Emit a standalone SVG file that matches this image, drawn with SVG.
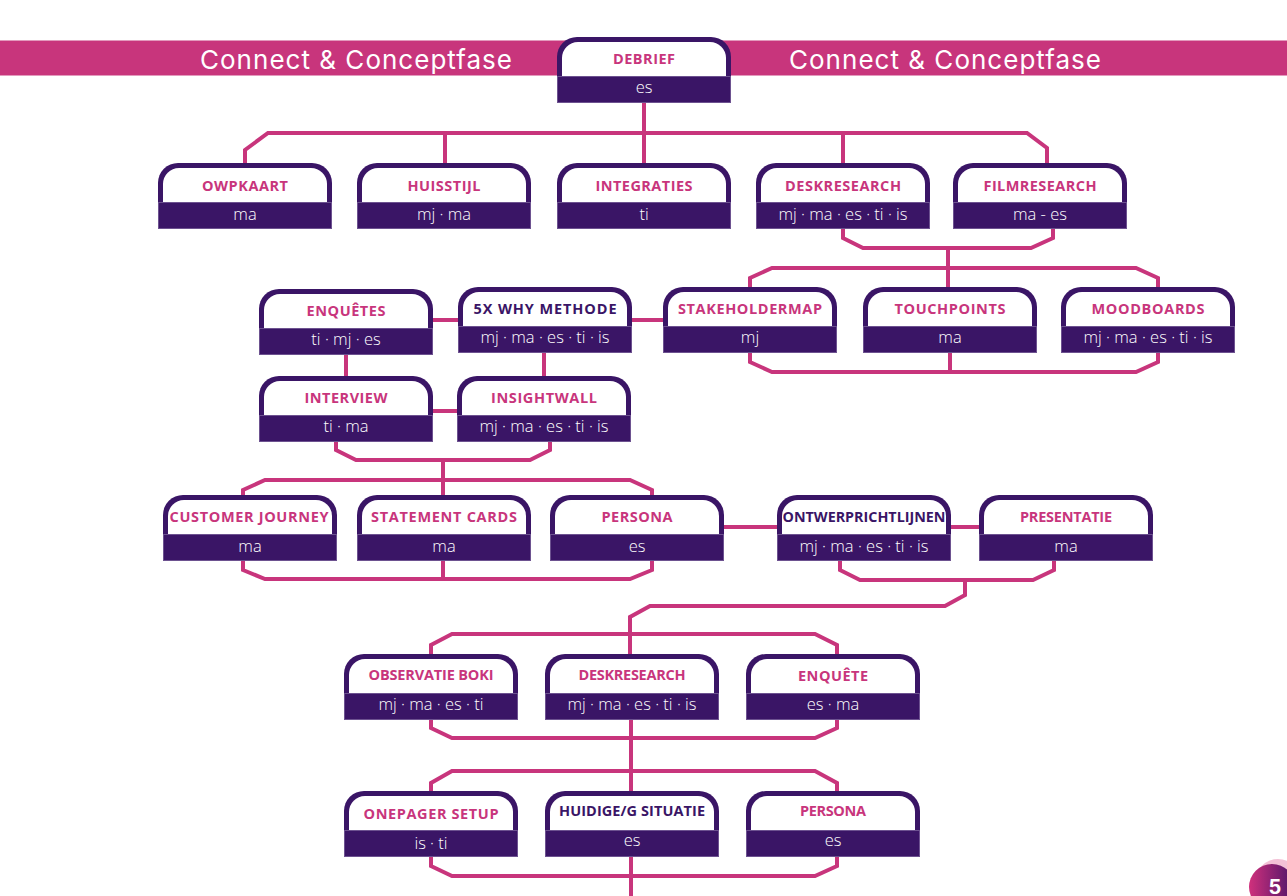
<svg xmlns="http://www.w3.org/2000/svg" xmlns:xlink="http://www.w3.org/1999/xlink" width="1287" height="896" viewBox="0 0 1287 896">
<style>
.bus{fill:none;stroke:#c8357c;stroke-width:4;stroke-linejoin:miter}
.lbl{font-family:"Open Sans","Liberation Sans",sans-serif;font-weight:700;font-size:14.5px;fill:#c8357c;text-anchor:middle}
.dk{fill:#3a1566}
.sub{font-family:"Open Sans","Liberation Sans",sans-serif;font-weight:300;font-size:16.5px;fill:#ffffff;text-anchor:middle}
.hdr{font-family:"Inter","Liberation Sans",sans-serif;font-weight:400;font-size:26px;fill:#ffffff;text-anchor:middle}
</style>
<defs>
<g id="shape">
<path d="M0,66 V20 A20,20 0 0 1 20,0 H154 A20,20 0 0 1 174,20 V66 Z" fill="#3a1566"/>
<path d="M5,39 V21 A16,16 0 0 1 21,5 H153 A16,16 0 0 1 169,21 V39 Z" fill="#ffffff"/>
<rect x="0.5" y="39.5" width="173" height="26" fill="none" stroke="#6d5290" stroke-width="1"/>
</g>
<linearGradient id="pg" x1="0" y1="0" x2="1" y2="0">
<stop offset="0" stop-color="#d0307c"/>
<stop offset="1" stop-color="#4a1468"/>
</linearGradient>
</defs>
<rect width="1287" height="896" fill="#ffffff"/>
<g id="header">
<rect x="0" y="40" width="1287" height="36" fill="#c8357c"/>
<line x1="0" y1="40.5" x2="1287" y2="40.5" stroke="#e39abd" stroke-width="1"/>
<line x1="0" y1="75.5" x2="1287" y2="75.5" stroke="#e39abd" stroke-width="1"/>
<text class="hdr" x="356" y="69" textLength="312">Connect &amp; Conceptfase</text>
<text class="hdr" x="945" y="69" textLength="312">Connect &amp; Conceptfase</text>
</g>
<g id="connectors">
<path class="bus" d="M644,103 V133"/>
<path class="bus" d="M245,163 V150 L268,133 H1027 L1047,148 V163"/>
<path class="bus" d="M445,133 V163 M644,133 V163 M843,133 V163"/>
<path class="bus" d="M843,229 V238 L863,248 H1031 L1053,238 V229"/>
<path class="bus" d="M948,248 V288"/>
<path class="bus" d="M750,288 V278 L772,268 H1136 L1158,278 V288"/>
<path class="bus" d="M750,352 V362 L772,372 H1136 L1158,362 V352 M950,352 V372"/>
<path class="bus" d="M432,320 H458 M631,320 H663"/>
<path class="bus" d="M346,354 V376 M544,352 V376"/>
<path class="bus" d="M432,411 H457"/>
<path class="bus" d="M336,441 V450 L356,460 H530 L550,450 V441 M443,460 V495"/>
<path class="bus" d="M243,495 V490 L265,480 H630 L652,490 V495"/>
<path class="bus" d="M243,561 V570 L265,579 H630 L652,570 V561 M443,561 V579"/>
<path class="bus" d="M723,527 H777 M950,527 H979"/>
<path class="bus" d="M840,561 V570 L860,580 H1033 L1054,570 V561 M965,580 V595 L945,606 H650 L630,617 V654"/>
<path class="bus" d="M431,654 V645 L452,634 H815 L837,645 V654"/>
<path class="bus" d="M431,719 V728 L452,738 H815 L837,728 V719 M631,719 V791"/>
<path class="bus" d="M431,791 V783 L452,771 H815 L837,783 V791"/>
<path class="bus" d="M431,857 V866 L452,876 H815 L837,866 V857 M631,857 V896"/>
</g>
<g id="debrief" transform="translate(557,37)"><use xlink:href="#shape"/><text class="lbl" x="87" y="27" font-size="13.5" textLength="62">DEBRIEF</text><text class="sub" x="87" y="56">es</text></g>
<g id="owpkaart" transform="translate(158,163)"><use xlink:href="#shape"/><text class="lbl" x="87" y="28" textLength="86">OWPKAART</text><text class="sub" x="87" y="57">ma</text></g>
<g id="huisstijl" transform="translate(357,163)"><use xlink:href="#shape"/><text class="lbl" x="87" y="28" textLength="73">HUISSTIJL</text><text class="sub" x="87" y="57">mj · ma</text></g>
<g id="integraties" transform="translate(557,163)"><use xlink:href="#shape"/><text class="lbl" x="87" y="28" textLength="97">INTEGRATIES</text><text class="sub" x="87" y="57">ti</text></g>
<g id="deskresearch1" transform="translate(756,163)"><use xlink:href="#shape"/><text class="lbl" x="87" y="28" textLength="116">DESKRESEARCH</text><text class="sub" x="87" y="57">mj · ma · es · ti · is</text></g>
<g id="filmresearch" transform="translate(953,163)"><use xlink:href="#shape"/><text class="lbl" x="87" y="28" textLength="113">FILMRESEARCH</text><text class="sub" x="87" y="57">ma - es</text></g>
<g id="enquetes" transform="translate(259,289)"><use xlink:href="#shape"/><text class="lbl" x="87" y="27" textLength="79">ENQUÊTES</text><text class="sub" x="87" y="56">ti · mj · es</text></g>
<g id="why" transform="translate(458,287)"><use xlink:href="#shape"/><text class="lbl dk" x="87" y="27" font-size="15.5" textLength="143">5X WHY METHODE</text><text class="sub" x="87" y="56">mj · ma · es · ti · is</text></g>
<g id="stakeholdermap" transform="translate(663,287)"><use xlink:href="#shape"/><text class="lbl" x="87" y="27" textLength="144">STAKEHOLDERMAP</text><text class="sub" x="87" y="56">mj</text></g>
<g id="touchpoints" transform="translate(863,287)"><use xlink:href="#shape"/><text class="lbl" x="87" y="27" textLength="111">TOUCHPOINTS</text><text class="sub" x="87" y="56">ma</text></g>
<g id="moodboards" transform="translate(1061,287)"><use xlink:href="#shape"/><text class="lbl" x="87" y="27" textLength="113">MOODBOARDS</text><text class="sub" x="87" y="56">mj · ma · es · ti · is</text></g>
<g id="interview" transform="translate(259,376)"><use xlink:href="#shape"/><text class="lbl" x="87" y="27" textLength="83">INTERVIEW</text><text class="sub" x="87" y="56">ti · ma</text></g>
<g id="insightwall" transform="translate(457,376)"><use xlink:href="#shape"/><text class="lbl" x="87" y="27" textLength="106">INSIGHTWALL</text><text class="sub" x="87" y="56">mj · ma · es · ti · is</text></g>
<g id="customerjourney" transform="translate(163,495)"><use xlink:href="#shape"/><text class="lbl" x="86" y="27" textLength="159">CUSTOMER JOURNEY</text><text class="sub" x="87" y="57">ma</text></g>
<g id="statementcards" transform="translate(357,495)"><use xlink:href="#shape"/><text class="lbl" x="87" y="27" textLength="146">STATEMENT CARDS</text><text class="sub" x="87" y="57">ma</text></g>
<g id="persona1" transform="translate(550,495)"><use xlink:href="#shape"/><text class="lbl" x="87" y="27" textLength="71">PERSONA</text><text class="sub" x="87" y="57">es</text></g>
<g id="ontwerprichtlijnen" transform="translate(777,495)"><use xlink:href="#shape"/><text class="lbl dk" x="87" y="27" font-size="13.5" textLength="163" lengthAdjust="spacingAndGlyphs">ONTWERPRICHTLIJNEN</text><text class="sub" x="87" y="57">mj · ma · es · ti · is</text></g>
<g id="presentatie" transform="translate(979,495)"><use xlink:href="#shape"/><text class="lbl" x="87" y="27" font-size="13" textLength="92">PRESENTATIE</text><text class="sub" x="87" y="57">ma</text></g>
<g id="observatieboki" transform="translate(344,654)"><use xlink:href="#shape"/><text class="lbl" x="87" y="26" font-size="13" textLength="125">OBSERVATIE BOKI</text><text class="sub" x="87" y="56">mj · ma · es · ti</text></g>
<g id="deskresearch2" transform="translate(545,654)"><use xlink:href="#shape"/><text class="lbl" x="87" y="26" font-size="13" textLength="107">DESKRESEARCH</text><text class="sub" x="87" y="56">mj · ma · es · ti · is</text></g>
<g id="enquete" transform="translate(746,654)"><use xlink:href="#shape"/><text class="lbl" x="87" y="27" textLength="70">ENQUÊTE</text><text class="sub" x="87" y="56">es · ma</text></g>
<g id="onepagersetup" transform="translate(344,791)"><use xlink:href="#shape"/><text class="lbl" x="87" y="28" textLength="135">ONEPAGER SETUP</text><text class="sub" x="87" y="58">is · ti</text></g>
<g id="huidigesituatie" transform="translate(545,791)"><use xlink:href="#shape"/><text class="lbl dk" x="87" y="25" font-size="13.5" textLength="146">HUIDIGE/G SITUATIE</text><text class="sub" x="87" y="55">es</text></g>
<g id="persona2" transform="translate(746,791)"><use xlink:href="#shape"/><text class="lbl" x="87" y="25" font-size="13" textLength="66">PERSONA</text><text class="sub" x="87" y="55">es</text></g>
<g id="pagenumber">
<circle cx="1278" cy="882" r="23" fill="#f3c1d6"/>
<circle cx="1272" cy="887" r="23" fill="url(#pg)"/>
<text x="1275" y="894" font-family="Inter,'Liberation Sans',sans-serif" font-weight="700" font-size="20" fill="#ffffff" text-anchor="middle">5</text>
</g>
</svg>
